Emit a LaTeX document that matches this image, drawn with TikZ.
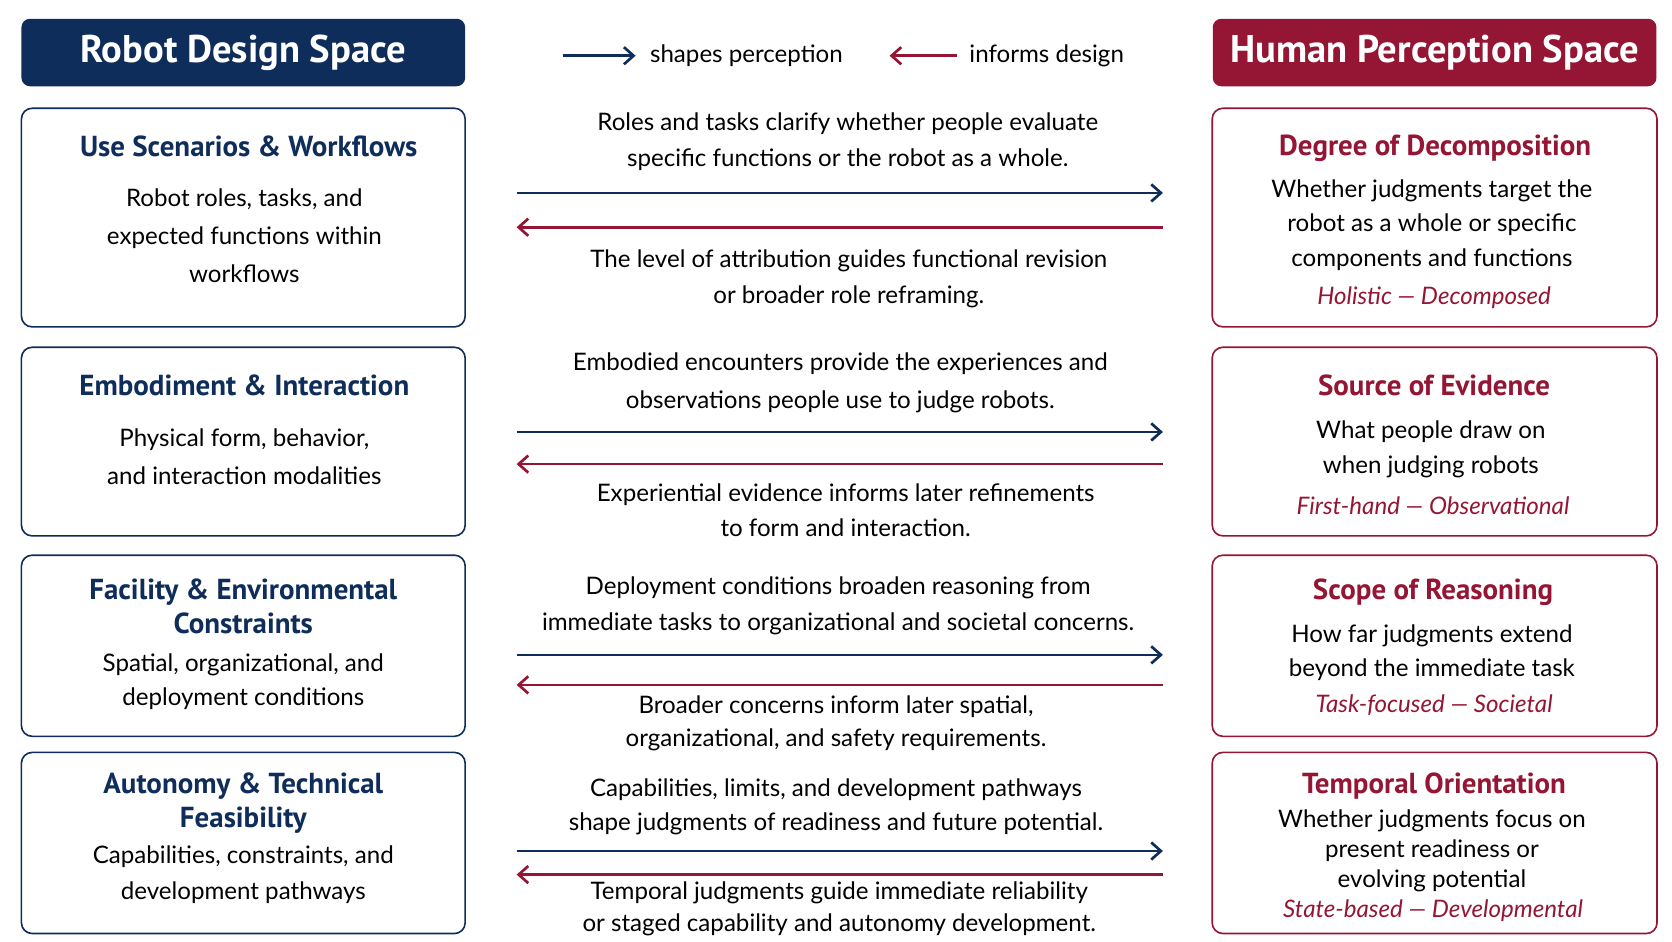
\documentclass[tikz,border=0pt]{standalone}
\usepackage{fontspec}
\setmainfont{Lato}
\newfontfamily\titlefont{PT Sans}
\usetikzlibrary{arrows.meta}
\definecolor{navy}{HTML}{0F2D5A}
\definecolor{wine}{HTML}{951634}
\tikzset{
 hdr/.style={rounded corners=8pt,minimum width=414pt,minimum height=63pt,inner sep=0pt,text=white,font=\titlefont\bfseries\fontsize{36}{40}\selectfont},
 lbox/.style={draw=navy,line width=1.5pt,rounded corners=10pt},
 rbox/.style={draw=wine,line width=1.5pt,rounded corners=10pt},
 ltitle/.style={text=navy,align=center,font=\titlefont\bfseries\fontsize{27}{32}\selectfont},
 rtitle/.style={text=wine,align=center,font=\titlefont\bfseries\fontsize{27}{32}\selectfont},
 body/.style={align=center,font=\fontsize{22.5}{#1}\selectfont},
 rng/.style={text=wine,font=\itshape\fontsize{22.5}{24}\selectfont},
 fw/.style={draw=navy,line width=2.5pt,-{Straight Barb[length=9pt,width=16pt,line width=2.5pt]}},
 bw/.style={draw=wine,line width=2.5pt,-{Straight Barb[length=9pt,width=16pt,line width=2.5pt]}},
}
\begin{document}
\begin{tikzpicture}[x=1pt,y=-1pt]
\useasboundingbox[fill=white] (0,0) rectangle (1560,878);
% headers
\node[hdr,fill=navy] (lh) at (227,49) {Robot Design Space};
\node[hdr,fill=wine] (rh) at (1338.5,49) {Human Perception Space};
% legend
\coordinate (l1a) at (525,52); \coordinate (l1b) at (593,52);
\draw[fw] (l1a) -- (l1b);
\node[anchor=west,font=\fontsize{22.5}{24}\selectfont] (lt1) at (603,52) {shapes perception};
\coordinate (l2a) at (893,52); \coordinate (l2b) at (830,52);
\draw[bw] (l2a) -- (l2b);
\node[anchor=west,font=\fontsize{22.5}{24}\selectfont] (lt2) at (901,52) {informs design};
% boxes
\draw[lbox] (20,101) rectangle (434,305) node[pos=0.5,opacity=0] (L1) {};
\draw[lbox] (20,324) rectangle (434,500) node[pos=0.5,opacity=0] (L2) {};
\draw[lbox] (20,518) rectangle (434,687) node[pos=0.5,opacity=0] (L3) {};
\draw[lbox] (20,702) rectangle (434,871) node[pos=0.5,opacity=0] (L4) {};
\draw[rbox] (1131,101) rectangle (1546,305) node[pos=0.5,opacity=0] (R1) {};
\draw[rbox] (1131,324) rectangle (1546,500) node[pos=0.5,opacity=0] (R2) {};
\draw[rbox] (1131,518) rectangle (1546,687) node[pos=0.5,opacity=0] (R3) {};
\draw[rbox] (1131,702) rectangle (1546,871) node[pos=0.5,opacity=0] (R4) {};
% left texts
\node[ltitle] (L1t) at (232,137) {Use Scenarios \& Workflows};
\node[body=35.5] (L1b) at (228,220) {Robot roles, tasks, and\\expected functions within\\workflows};
\node[ltitle] (L2t) at (228,360) {Embodiment \& Interaction};
\node[body=36] (L2b) at (228,426) {Physical form, behavior,\\and interaction modalities};
\node[ltitle] (L3t) at (227,566) {Facility \& Environmental\\Constraints};
\node[body=32] (L3b) at (227,636) {Spatial, organizational, and\\deployment conditions};
\node[ltitle] (L4t) at (227,749) {Autonomy \& Technical\\Feasibility};
\node[body=33] (L4b) at (227,816) {Capabilities, constraints, and\\development pathways};
% right texts
\node[rtitle] (R1t) at (1339,138) {Degree of Decomposition};
\node[body=32] (R1b) at (1336,210) {Whether judgments target the\\robot as a whole or specific\\components and functions};
\node[rng] (R1r) at (1338,278) {Holistic — Decomposed};
\node[rtitle] (R2t) at (1338,360) {Source of Evidence};
\node[body=33] (R2b) at (1335,419) {What people draw on\\when judging robots};
\node[rng] (R2r) at (1337,472) {First-hand — Observational};
\node[rtitle] (R3t) at (1337,553) {Scope of Reasoning};
\node[body=32] (R3b) at (1336,609) {How far judgments extend\\beyond the immediate task};
\node[rng] (R3r) at (1338,658) {Task-focused — Societal};
\node[rtitle] (R4t) at (1338,733) {Temporal Orientation};
\node[body=28] (R4b) at (1336,794) {Whether judgments focus on\\present readiness or\\evolving potential};
\node[rng] (R4r) at (1337,850) {State-based — Developmental};
% arrows
\foreach \i/\yf/\yb in {1/180/212,2/403/433,3/611/639,4/794/816}{
  \coordinate (fa\i) at (482,\yf); \coordinate (fb\i) at (1085,\yf);
  \coordinate (ba\i) at (1085,\yb); \coordinate (bb\i) at (482,\yb);
  \draw[fw] (fa\i) -- (fb\i);
  \draw[bw] (ba\i) -- (bb\i);
}
% middle texts
\node[body=34] (m1a) at (791,132) {Roles and tasks clarify whether people evaluate\\specific functions or the robot as a whole.};
\node[body=34] (m1b) at (792,260) {The level of attribution guides functional revision\\or broader role reframing.};
\node[body=35] (m2a) at (784,357) {Embodied encounters provide the experiences and\\observations people use to judge robots.};
\node[body=32] (m2b) at (789,476) {Experiential evidence informs later refinements\\to form and interaction.};
\node[body=34] (m3a) at (782,565) {Deployment conditions broaden reasoning from\\immediate tasks to organizational and societal concerns.};
\node[body=31] (m3b) at (780,675) {Broader concerns inform later spatial,\\organizational, and safety requirements.};
\node[body=32] (m4a) at (780,753) {Capabilities, limits, and development pathways\\shape judgments of readiness and future potential.};
\node[body=30] (m4b) at (783,848) {Temporal judgments guide immediate reliability\\or staged capability and autonomy development.};
\end{tikzpicture}
\end{document}
